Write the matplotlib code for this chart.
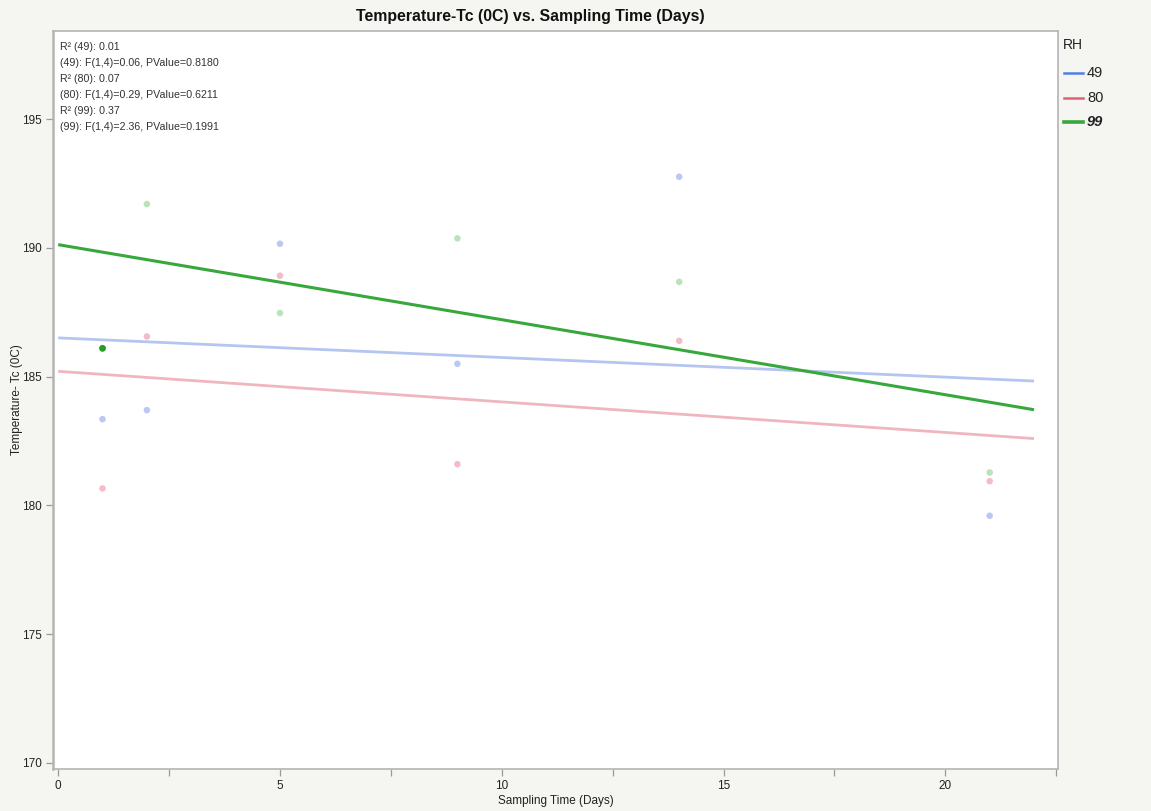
import numpy as np
import matplotlib
matplotlib.use("Agg")
import matplotlib.pyplot as plt
from matplotlib.ticker import MultipleLocator

plt.rcParams['font.family'] = ['Liberation Sans', 'DejaVu Sans']

# Sampling days shared by every RH group
days = [1, 2, 5, 9, 14, 21]

# Tc readings per relative-humidity group
tc_rh49 = [183.35, 183.70, 190.16, 185.50, 192.76, 179.60]
tc_rh80 = [180.66, 186.56, 188.92, 181.60, 186.39, 180.94]
tc_rh99 = [186.10, 191.70, 187.47, 190.37, 188.68, 181.28]

groups = ["49", "80", "99"]

fit_stats = [
    "R\u00b2 (49): 0.01",
    "(49): F(1,4)=0.06, PValue=0.8180",
    "R\u00b2 (80): 0.07",
    "(80): F(1,4)=0.29, PValue=0.6211",
    "R\u00b2 (99): 0.37",
    "(99): F(1,4)=2.36, PValue=0.1991",
]

bg = "#f5f5f1"
fig = plt.figure(figsize=(11.51, 8.11), dpi=100, facecolor=bg)
ax = fig.add_axes([0.0463, 0.0522, 0.8729, 0.9099])
ax.set_facecolor("white")

series = [
    (tc_rh49, "#b9c9f3", "#b4c5f0", 2.0, "#4f80e4"),
    (tc_rh80, "#f3bcc6", "#f0b6c0", 2.0, "#e0606e"),
    (tc_rh99, "#b9e3b9", "#38a83c", 2.2, "#38a83c"),
]

x_fit = np.array([0.0, 22.0])
for vals, pt_col, line_col, lw, _ in series:
    slope, intercept = np.polyfit(days, vals, 1)
    ax.plot(x_fit, intercept + slope * x_fit, color=line_col, lw=lw,
            solid_capstyle="butt", zorder=2)
    ax.scatter(days, vals, s=22, color=pt_col, edgecolors="none", zorder=3)

# highlighted row in the RH 99 group
ax.scatter([days[0]], [tc_rh99[0]], s=24, color="#2a9a2a", edgecolors="none", zorder=4)

ax.set_xlim(-0.11, 22.54)
ax.set_ylim(169.78, 198.43)
ax.xaxis.set_major_locator(MultipleLocator(5))
ax.xaxis.set_minor_locator(MultipleLocator(2.5))
ax.yaxis.set_major_locator(MultipleLocator(5))

for sp in ax.spines.values():
    sp.set_color("#b4b4b4")
    sp.set_linewidth(1.2)
ax.spines["left"].set_linewidth(1.8)

ax.tick_params(axis="both", which="both", direction="out", color="#9a9a9a",
               labelsize=8.5, labelcolor="#222222", width=0.9)
ax.tick_params(axis="both", which="major", length=5, pad=3)
ax.tick_params(axis="x", which="minor", length=5)
ax.tick_params(axis="x", pad=3)

ax.set_xlabel("Sampling Time (Days)", fontsize=8.5, color="#222222")
ax.set_ylabel("Temperature- Tc (0C)", fontsize=8.5, color="#222222")
ax.xaxis.set_label_coords(0.5, -0.036)
ax.yaxis.set_label_coords(-0.030, 0.5)

fig.text(530 / 1151, 1 - 17 / 811, "Temperature-Tc (0C) vs. Sampling Time (Days)",
         ha="center", va="center", fontsize=11.4, fontweight="bold", color="#111111")

for i, line in enumerate(fit_stats):
    fig.text(60 / 1151, 1 - (47 + i * 15.9) / 811, line, ha="left", va="center",
             fontsize=7.7, color="#333333")

# legend
fig.text(1063 / 1151, 1 - 45 / 811, "RH", ha="left", va="center", fontsize=10,
         color="#222222")
for i, (g, s) in enumerate(zip(groups, series)):
    yy = 1 - (73 + i * 24.5) / 811
    lw = 2.6 if g == "99" else 1.8
    fig.add_artist(plt.Line2D([1064 / 1151, 1083 / 1151], [yy, yy], color=s[4], lw=lw,
                              transform=fig.transFigure))
    kw = dict(fontweight="bold", fontstyle="italic") if g == "99" else {}
    fig.text(1087 / 1151, yy, g, ha="left", va="center", fontsize=10.5,
             color="#222222", **kw)

fig.savefig("out.png", dpi=100, facecolor=bg)
